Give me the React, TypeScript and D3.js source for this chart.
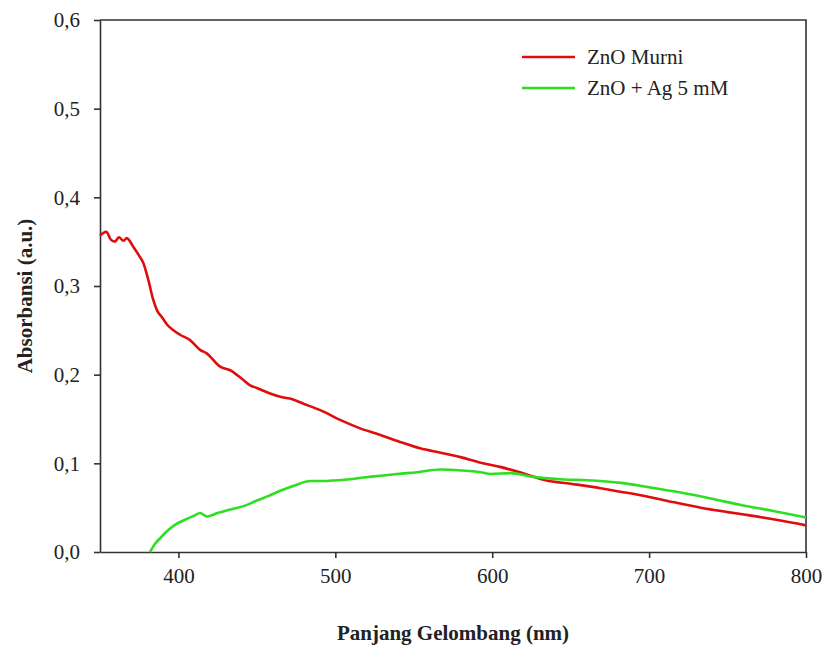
import { useEffect, useRef } from "react";
import * as d3 from "d3";

interface Point {
  nm: number;
  abs: number;
}

// ZnO Murni (red)
const murniNm = [350, 354, 357, 359.6, 362, 365, 367, 371.3, 375, 377.6, 380.8, 384, 386.5, 389.4, 393, 396.8, 401, 407.4, 413.8, 418, 426.6, 433, 440, 445.7, 450, 458, 464.9, 471, 480, 490.4, 503, 515, 528.7, 540, 554, 567, 579.8, 592, 605, 622, 634, 650, 669, 685, 700, 716, 733, 750, 765, 782, 800];
const murniAbs = [0.357, 0.361, 0.352, 0.35, 0.355, 0.351, 0.354, 0.344, 0.334, 0.326, 0.307, 0.284, 0.272, 0.265, 0.256, 0.25, 0.245, 0.239, 0.228, 0.224, 0.209, 0.205, 0.196, 0.188, 0.185, 0.179, 0.175, 0.173, 0.167, 0.16, 0.149, 0.14, 0.132, 0.125, 0.117, 0.112, 0.107, 0.101, 0.096, 0.0875, 0.081, 0.077, 0.072, 0.067, 0.062, 0.056, 0.05, 0.045, 0.041, 0.036, 0.03];

// ZnO + Ag 5 mM (green)
const agNm = [381.9, 385, 388.3, 393, 399, 405, 410, 413.8, 418.1, 425, 433, 442, 450, 457, 464.9, 474, 484, 492, 501, 510, 517.9, 529, 539.4, 552, 567, 580, 592.5, 599, 611.7, 625, 643.6, 660, 682, 700, 720, 740, 758.5, 780, 800];
const agAbs = [0, 0.009, 0.0155, 0.024, 0.032, 0.037, 0.041, 0.044, 0.04, 0.044, 0.048, 0.052, 0.058, 0.063, 0.069, 0.075, 0.08, 0.08, 0.081, 0.082, 0.084, 0.086, 0.088, 0.09, 0.093, 0.092, 0.09, 0.088, 0.089, 0.085, 0.082, 0.081, 0.078, 0.073, 0.067, 0.06, 0.053, 0.046, 0.039];

const xTicks = [400, 500, 600, 700, 800];
const yTicks = [0, 0.1, 0.2, 0.3, 0.4, 0.5, 0.6];

const seriesNames = ["ZnO Murni", "ZnO + Ag 5 mM"];
const seriesColors = ["#e00d0d", "#2ddf22"];

const W = 826;
const H = 649;
const margin = { left: 100, right: 20, top: 20, bottom: 97 };
const FONT = "Liberation Serif, DejaVu Serif, serif";

const zip = (xs: number[], ys: number[]): Point[] => xs.map((x, i) => ({ nm: x, abs: ys[i] }));

const drawChart = (svgEl: SVGSVGElement) => {
  const svg = d3.select(svgEl);
  svg.selectAll("*").remove();

  const x = d3.scaleLinear().domain([350, 800]).range([margin.left, W - margin.right]);
  const y = d3.scaleLinear().domain([0, 0.6]).range([H - margin.bottom, margin.top]);

  const axisColor = "#333";

  // y axis
  const yAxis = svg
    .append("g")
    .attr("transform", `translate(${margin.left},0)`)
    .call(d3.axisLeft(y).tickValues(yTicks).tickSize(6).tickSizeOuter(0).tickFormat((d) => d3.format(".1f")(d as number).replace(".", ",")));
  // x axis
  const xAxis = svg
    .append("g")
    .attr("transform", `translate(0,${H - margin.bottom})`)
    .call(d3.axisBottom(x).tickValues(xTicks).tickSize(6).tickSizeOuter(0).tickFormat((d) => String(d)));

  [yAxis, xAxis].forEach((g) => {
    g.attr("font-family", FONT).attr("font-size", 21);
    g.select(".domain").attr("stroke", axisColor).attr("stroke-width", 1.6);
    g.selectAll(".tick line").attr("stroke", axisColor).attr("stroke-width", 1.6);
    g.selectAll(".tick text").attr("fill", "#222");
  });
  yAxis.selectAll(".tick text").attr("x", -20).attr("dy", "0.32em");
  xAxis.selectAll(".tick text").attr("y", 16).attr("dy", "0.71em");

  // frame top + right
  svg
    .append("path")
    .attr("d", `M${x(350)},${y(0.6)}H${x(800)}V${y(0)}`)
    .attr("fill", "none")
    .attr("stroke", axisColor)
    .attr("stroke-width", 1.6);

  const line = d3
    .line<Point>()
    .x((d) => x(d.nm))
    .y((d) => y(d.abs))
    .curve(d3.curveMonotoneX);

  const data = [zip(murniNm, murniAbs), zip(agNm, agAbs)];
  data.forEach((pts, i) => {
    svg
      .append("path")
      .datum(pts)
      .attr("d", line)
      .attr("fill", "none")
      .attr("stroke", seriesColors[i])
      .attr("stroke-width", 2.6)
      .attr("stroke-linejoin", "round");
  });

  // legend
  const legend = svg.append("g").attr("transform", "translate(522,57)");
  seriesNames.forEach((name, i) => {
    const row = legend.append("g").attr("transform", `translate(0,${i * 31})`);
    row.append("line").attr("x1", 0).attr("x2", 53).attr("stroke", seriesColors[i]).attr("stroke-width", 2.6);
    row
      .append("text")
      .attr("x", 65)
      .attr("y", 7)
      .attr("fill", "#222")
      .attr("font-family", FONT)
      .attr("font-size", 21)
      .text(name);
  });

  // axis titles
  svg
    .append("text")
    .attr("x", (x(350) + x(800)) / 2)
    .attr("y", 640)
    .attr("text-anchor", "middle")
    .attr("fill", "#222")
    .attr("font-family", FONT)
    .attr("font-size", 21)
    .attr("font-weight", "bold")
    .text("Panjang Gelombang (nm)");

  svg
    .append("text")
    .attr("transform", `translate(32,296) rotate(-90)`)
    .attr("text-anchor", "middle")
    .attr("fill", "#222")
    .attr("font-family", FONT)
    .attr("font-size", 21)
    .attr("font-weight", "bold")
    .text("Absorbansi (a.u.)");
};

const App = () => {
  const svgRef = useRef<SVGSVGElement>(null);

  useEffect(() => {
    if (svgRef.current) drawChart(svgRef.current);
  }, []);

  return (
    <div style={{ position: "absolute", left: 0, top: 0 }}>
      <svg ref={svgRef} width={W} height={H} style={{ display: "block", background: "#fff" }}></svg>
    </div>
  );
};

export default App;
